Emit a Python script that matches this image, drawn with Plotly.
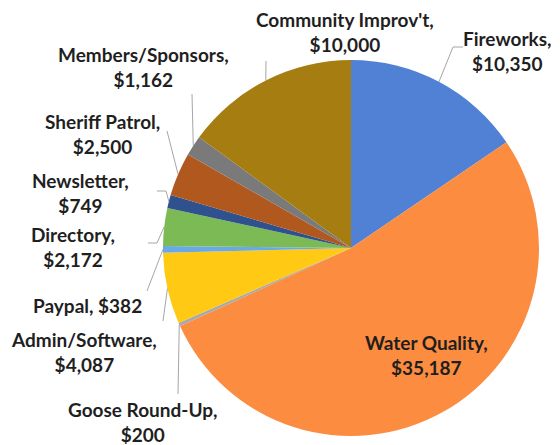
import math
import plotly.graph_objects as go

categories = ["Fireworks", "Water Quality", "Goose Round-Up", "Admin/Software", "Paypal",
              "Directory", "Newsletter", "Sheriff Patrol", "Members/Sponsors", "Community Improv't"]
values = [10350, 35187, 200, 4087, 382, 2172, 749, 2500, 1162, 10000]
colors = ["#5181D5", "#FC8C40", "#A9A9A9", "#FFC914", "#69AAE5",
          "#7CBA56", "#2F528F", "#B0581E", "#7A7A7A", "#A67D10"]

OFF = 8  # page body margin
W, H = 560 - OFF, 445 - OFF
CX, CY, R = 351, 248, 188

def px(x):
    return (x - OFF) / W

def py(y):
    return 1 - (y - OFF) / H

fig = go.Figure(go.Pie(
    labels=categories, values=values, sort=False, direction="clockwise", rotation=0,
    marker=dict(colors=colors, line=dict(width=0)), textinfo="none", hoverinfo="label+value",
    domain=dict(x=[px(CX - R), px(CX + R)], y=[py(CY + R), py(CY - R)]),
    showlegend=False,
))

# label placement (pixel layout) and leader-line elbows
label_pos = {
    "Fireworks": (507, 51, [(463, 47), (453, 47)]),
    "Water Quality": (426, 355, None),
    "Goose Round-Up": (142, 422, [(178, 394)]),
    "Admin/Software": (84, 352, [(163, 321)]),
    "Paypal": (87, 305, [(147, 291)]),
    "Directory": (73, 247, [(148, 243), (157, 243)]),
    "Newsletter": (80, 193, [(157, 191), (166, 191)]),
    "Sheriff Patrol": (102, 134, [(167, 131)]),
    "Members/Sponsors": (143, 67, [(192, 94)]),
    "Community Improv't": (345, 32, [(266, 61)]),
}

total = sum(values)
cum = 0
shapes = []
annotations = []
for name, v in zip(categories, values):
    mid = (cum + v / 2) / total * 2 * math.pi
    cum += v
    ex = CX + R * math.sin(mid)
    ey = CY - R * math.cos(mid)
    lx, ly, elbows = label_pos[name]
    if name == "Paypal":
        text = f"{name}, ${v:,}"
    else:
        text = f"{name},<br>${v:,}"
    annotations.append(dict(
        x=px(lx), y=py(ly), xref="paper", yref="paper", text=text, showarrow=False,
        font=dict(family="Lato", size=19, color="#1f1f1f", weight="bold"),
        xanchor="center", yanchor="middle", align="center",
    ))
    if elbows:
        pts = elbows + [(ex, ey)]
        path = "M " + " L ".join(f"{px(x)},{py(y)}" for x, y in pts)
        shapes.append(dict(type="path", xref="paper", yref="paper", path=path,
                           line=dict(color="#A6A6A6", width=1)))

fig.update_layout(
    width=W, height=H, margin=dict(l=0, r=0, t=0, b=0),
    paper_bgcolor="white", plot_bgcolor="white",
    annotations=annotations, shapes=shapes,
)

fig.write_html("out.html")
